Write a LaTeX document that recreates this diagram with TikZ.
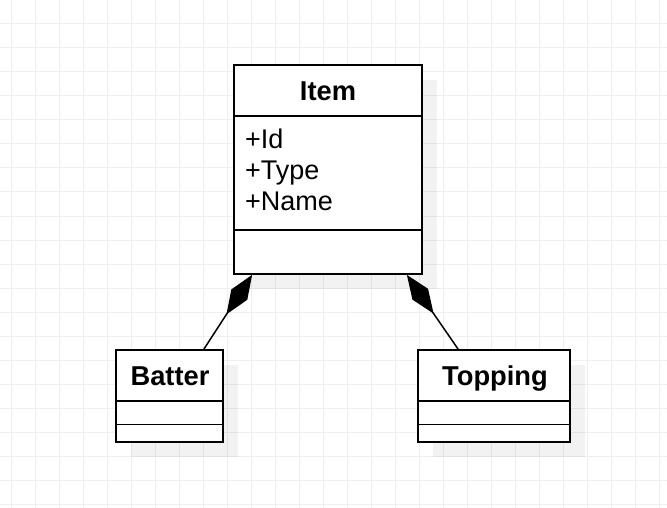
\documentclass[tikz,border=0pt]{standalone}
\usepackage{fontspec}
\setmainfont{Liberation Sans}
\usetikzlibrary{arrows.meta,shadows}

\definecolor{gridgray}{HTML}{EFEFEF}

\tikzset{
  classbox/.style n args={2}{draw=black, line width=1.8pt, fill=white,
    minimum width=#1, minimum height=#2, inner sep=0pt,
    drop shadow={shadow xshift=15pt, shadow yshift=-15pt, fill=black, opacity=0.05}},
  sepline/.style={draw=black, line width=1.8pt},
  titletext/.style={anchor=base, inner sep=0pt, font=\fontsize{27.3}{32}\selectfont\bfseries},
  attrtext/.style={anchor=base west, inner sep=0pt, font=\fontsize{27}{32}\selectfont},
  composition/.style={draw=black, line width=1.5pt, -{Diamond[length=47pt, width=19pt]}}
}

\begin{document}
\begin{tikzpicture}[x=1pt, y=-1pt]
  \useasboundingbox (0,0) rectangle (667,508);
  \fill[white] (0,0) rectangle (667,508);

  % Background grid
  \foreach \gx in {0,...,27}
    \draw[gridgray, line width=1pt] (11.7+24*\gx,0) -- (11.7+24*\gx,508);
  \foreach \gy in {1,...,21}
    \draw[gridgray, line width=1pt] (0,24*\gy) -- (667,24*\gy);

  % Item class
  \node[classbox={188pt}{209pt}] (item) at (328,169.5) {};
  \draw[sepline] ([yshift=-52pt]item.north west) -- ([yshift=-52pt]item.north east);
  \draw[sepline] ([yshift=45pt]item.south west) -- ([yshift=45pt]item.south east);
  \node[titletext] (item-title) at (328,100.3) {Item};
  \node[attrtext] (item-id) at (245,148.3) {+Id};
  \node[attrtext] (item-type) at (245,179.6) {+Type};
  \node[attrtext] (item-name) at (245,211) {+Name};

  % Batter class
  \node[classbox={107pt}{92pt}] (batter) at (169.5,396) {};
  \draw[sepline] ([yshift=-52pt]batter.north west) -- ([yshift=-52pt]batter.north east);
  \draw[sepline] ([yshift=18.5pt]batter.south west) -- ([yshift=18.5pt]batter.south east);
  \node[titletext] (batter-title) at (170,385.3) {Batter};

  % Topping class
  \node[classbox={152pt}{92pt}] (topping) at (494,396) {};
  \draw[sepline] ([yshift=-52pt]topping.north west) -- ([yshift=-52pt]topping.north east);
  \draw[sepline] ([yshift=18.5pt]topping.south west) -- ([yshift=18.5pt]topping.south east);
  \node[titletext] (topping-title) at (495,385.3) {Topping};

  % Compositions
  \draw[composition] ([xshift=-20pt]batter.north east) -- ([xshift=19pt]item.south west);
  \draw[composition] ([xshift=41pt]topping.north west) -- ([xshift=-16pt]item.south east);
\end{tikzpicture}
\end{document}
